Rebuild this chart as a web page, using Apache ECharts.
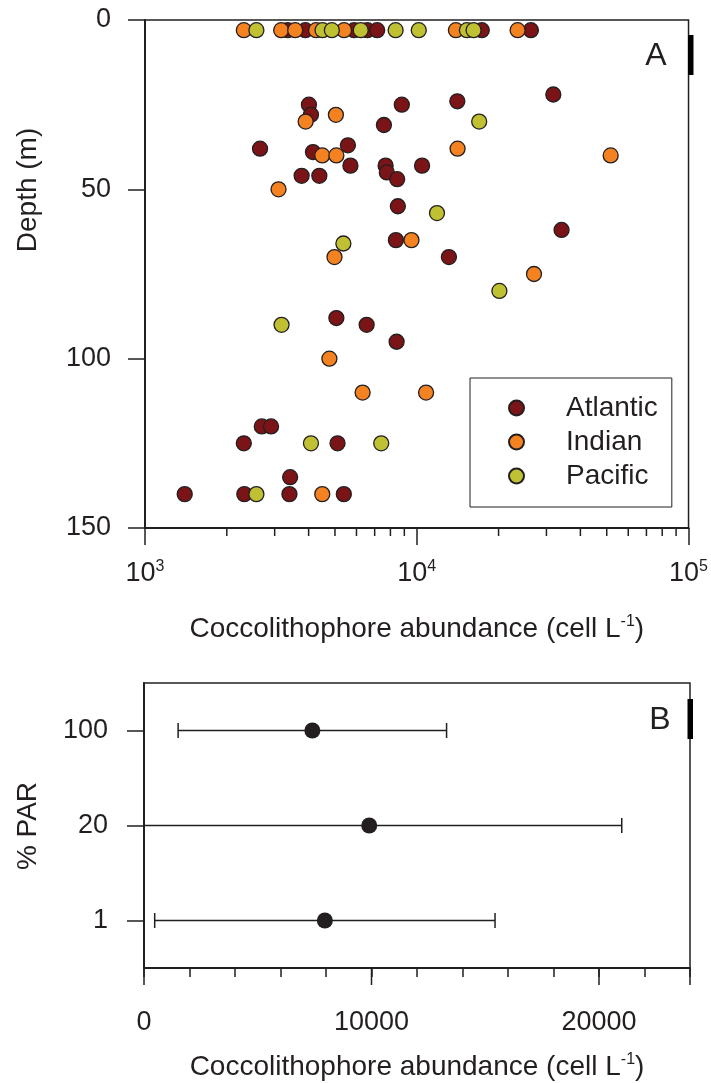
<!DOCTYPE html>
<html><head><meta charset="utf-8">
<script src="https://cdn.jsdelivr.net/npm/echarts@6/dist/echarts.min.js"></script>
<style>html,body{margin:0;padding:0;background:#fff}#c{width:711px;height:1083px}</style>
</head><body><div id="c"></div>
<script>
// ---- Panel A data: [abundance (cell/L), depth (m)] ----
const atlantic = [
  [3350,3],[3890,3],[5880,3],[6580,3],[7150,3],[17350,3],[26300,3],
  [4010,25],[4080,28],[7570,31],[8810,25],[14100,24],[31800,22],
  [2650,38],[4150,39],[5580,37],[5700,43],[7680,43],[7760,45],[8470,47],[10460,43],
  [3770,46],[4380,46],[8520,55],[34100,62],[8380,65],[13130,70],
  [5060,88],[6540,90],[8430,95],
  [2690,120],[2910,120],[2310,125],[5110,125],[3420,135],
  [1400,140],[2320,140],[3400,140],[5390,140]
];
const indian = [
  [2310,3],[3170,3],[3570,3],[4260,3],[5400,3],[13930,3],[23500,3],
  [5040,28],[3900,30],[4490,40],[5060,40],[3100,50],[14130,38],[51700,40],
  [9560,65],[4980,70],[27000,75],[4770,100],[6320,110],[10820,110],[4490,140]
];
const pacific = [
  [2570,3],[4500,3],[4870,3],[6220,3],[8360,3],[10170,3],[15290,3],[16180,3],
  [16970,30],[11870,57],[5370,66],[20140,80],[3180,90],[4080,125],[7400,125],[2570,140]
];
const seriesNames = ['Atlantic','Indian','Pacific'];
const depthTicks = [0,50,100,150];
const logMinorTicks = [2000,3000,4000,5000,6000,7000,8000,9000,20000,30000,40000,50000,60000,70000,80000,90000];

// ---- Panel B data ----
const parLevels = ['1','20','100'];
const parMean = [7950, 9900, 7400];
const parSD = [7480, 11100, 5900];
const linMajorTicks = [0, 10000, 20000, 24000];

const INK = '#231f20';
const FONT = 'Liberation Sans, Arial, sans-serif';
const COLORS = ['#7b1416', '#f58220', '#c0c132'];

const chart = echarts.init(document.getElementById('c'), null, {renderer:'canvas'});
const supRich = {sup:{fontSize:16, lineHeight:14, verticalAlign:'top', color:INK, fontFamily:FONT}};

const scatterSeries = [atlantic, indian, pacific].map((d,i)=>({
  name: seriesNames[i], type:'scatter', xAxisIndex:0, yAxisIndex:0,
  data:d, symbol:'circle', symbolSize:15,
  itemStyle:{color:COLORS[i], borderColor:INK, borderWidth:1.3, opacity:1},
  z: 10+i
}));

// draws a tick mark below the grid's bottom edge at the x position of the datum
function tickRenderer(len){
  return (params, api)=>{
    const p = api.coord([api.value(0), api.value(1)]);
    const cs = params.coordSys;
    const yb = cs.y + cs.height;
    return {type:'line', shape:{x1:p[0], y1:yb, x2:p[0], y2:yb+len}, style:{stroke:INK, lineWidth:1.5}};
  };
}

const option = {
  backgroundColor:'#fff',
  animation:false,
  textStyle:{fontFamily:FONT, color:INK},
  grid:[
    {left:145, top:20, width:546, height:508, show:true, borderColor:INK, borderWidth:1.5, backgroundColor:'transparent'},
    {left:144, top:683, width:546, height:285, show:true, borderColor:INK, borderWidth:1.5, backgroundColor:'transparent'}
  ],
  legend:{
    data:seriesNames, orient:'vertical', left:470, top:378,
    itemWidth:15, itemHeight:15, itemGap:6,
    padding:[16,14,17,38], borderColor:INK, borderWidth:1,
    icon:'circle',
    textStyle:{fontSize:28, color:INK, fontFamily:FONT, lineHeight:28, padding:[0,0,0,37]},
    selectedMode:false
  },
  xAxis:[
    {
      type:'log', gridIndex:0, logBase:10, min:1000, max:100000,
      axisLine:{onZero:false, lineStyle:{color:INK, width:2}},
      axisTick:{length:17, lineStyle:{color:INK, width:1.5}},
      splitLine:{show:false},
      axisLabel:{margin:31, color:INK, fontSize:27, fontFamily:FONT, lineHeight:30,
        formatter:v=>'10{sup|'+Math.round(Math.log10(v))+'}', rich:supRich},
      name:'Coccolithophore abundance (cell L{sup|-1})', nameLocation:'middle', nameGap:86,
      nameTextStyle:{fontSize:28, color:INK, fontFamily:FONT, lineHeight:30, rich:supRich}
    },
    {
      type:'value', gridIndex:1, min:0, max:24000, interval:2000, position:'bottom',
      axisLine:{show:true, onZero:false, lineStyle:{color:INK, width:2}},
      axisTick:{show:true, length:9, lineStyle:{color:INK, width:1.5}},
      splitLine:{show:false},
      axisLabel:{margin:41, color:INK, fontSize:27, fontFamily:FONT, lineHeight:27,
        formatter:v=>(v%10000===0?String(v):'')},
      name:'Coccolithophore abundance (cell L{sup|-1})', nameLocation:'middle', nameGap:84,
      nameTextStyle:{fontSize:28, color:INK, fontFamily:FONT, lineHeight:30, rich:supRich}
    }
  ],
  yAxis:[
    {
      type:'value', gridIndex:0, inverse:true, min:depthTicks[0], max:depthTicks[depthTicks.length-1], interval:50,
      axisLine:{show:true, onZero:false, lineStyle:{color:INK, width:2}},
      axisTick:{show:true, length:17, lineStyle:{color:INK, width:1.5}},
      splitLine:{show:false},
      axisLabel:{margin:34, color:INK, fontSize:27, fontFamily:FONT}
    },
    {
      type:'category', gridIndex:1, data:parLevels,
      axisLine:{show:true, onZero:false, lineStyle:{color:INK, width:2}},
      axisTick:{show:true, alignWithLabel:true, length:17, lineStyle:{color:INK, width:1.5}},
      splitLine:{show:false},
      axisLabel:{margin:36, color:INK, fontSize:27, fontFamily:FONT}
    }
  ],
  series:[
    ...scatterSeries,
    {
      type:'custom', name:'logMinorTicks', xAxisIndex:0, yAxisIndex:0, silent:true, clip:false,
      data:logMinorTicks.map(v=>[v, depthTicks[depthTicks.length-1]]),
      encode:{x:0, y:1}, renderItem:tickRenderer(8), z:5
    },
    {
      type:'custom', name:'linMajorTicks', xAxisIndex:1, yAxisIndex:1, silent:true, clip:false,
      data:linMajorTicks.map(v=>[v, 0]),
      encode:{x:0, y:1}, renderItem:tickRenderer(17), z:5
    },
    {
      type:'custom', name:'errorBars', xAxisIndex:1, yAxisIndex:1, silent:true, clip:true,
      data:parLevels.map((c,i)=>[parMean[i]-parSD[i], i, parMean[i]+parSD[i]]),
      encode:{x:[0,2], y:1},
      renderItem:(params, api)=>{
        const lo = api.coord([api.value(0), api.value(1)]);
        const hi = api.coord([api.value(2), api.value(1)]);
        const h = 7.5;
        const st = {stroke:INK, lineWidth:1.5, fill:null};
        return {type:'group', children:[
          {type:'line', shape:{x1:lo[0], y1:lo[1], x2:hi[0], y2:hi[1]}, style:st},
          {type:'line', shape:{x1:lo[0], y1:lo[1]-h, x2:lo[0], y2:lo[1]+h}, style:st},
          {type:'line', shape:{x1:hi[0], y1:hi[1]-h, x2:hi[0], y2:hi[1]+h}, style:st}
        ]};
      }, z:5
    },
    {
      type:'scatter', name:'mean', xAxisIndex:1, yAxisIndex:1,
      data:parLevels.map((c,i)=>[parMean[i], i]),
      symbol:'circle', symbolSize:16, itemStyle:{color:INK, opacity:1}, z:10
    }
  ],
  graphic:[
    {type:'text', x:656, y:56, style:{text:'A', fontSize:32, fill:INK, fontFamily:FONT, align:'center', verticalAlign:'middle'}},
    {type:'text', x:660, y:720, style:{text:'B', fontSize:32, fill:INK, fontFamily:FONT, align:'center', verticalAlign:'middle'}},
    {type:'rect', shape:{x:688, y:35, width:5.5, height:40}, style:{fill:'#000'}},
    {type:'rect', shape:{x:687.5, y:699, width:5.5, height:40}, style:{fill:'#000'}},
    {type:'text', x:28, y:190, rotation:Math.PI/2, style:{text:'Depth (m)', fontSize:28, fill:INK, fontFamily:FONT, align:'center', verticalAlign:'middle'}},
    {type:'text', x:28, y:826, rotation:Math.PI/2, style:{text:'% PAR', fontSize:28, fill:INK, fontFamily:FONT, align:'center', verticalAlign:'middle'}}
  ]
};
chart.setOption(option);
</script>
</body></html>
